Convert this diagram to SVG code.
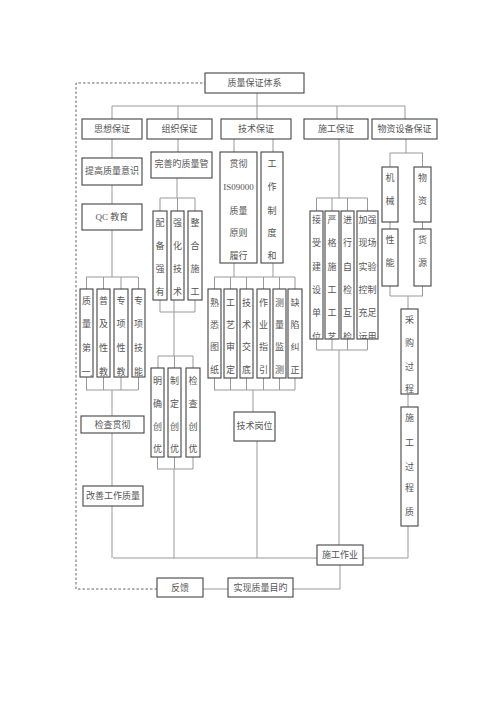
<svg xmlns="http://www.w3.org/2000/svg" width="500" height="707" viewBox="0 0 500 707">
<style>
.b{fill:#fff;stroke:#444;stroke-width:1.1}
.t{font-family:"Liberation Serif","Noto Sans CJK SC",serif;font-size:9px;fill:#555;text-anchor:middle}
.c{fill:none;stroke:#999;stroke-width:1}
.d{fill:none;stroke:#666;stroke-width:1;stroke-dasharray:2.5,2}
</style>
<defs>
<clipPath id="k1"><rect x="310" y="211" width="13" height="128"/></clipPath>
<clipPath id="k2"><rect x="325" y="211" width="14" height="128"/></clipPath>
<clipPath id="k3"><rect x="341" y="211" width="13" height="128"/></clipPath>
<clipPath id="k4"><rect x="357" y="211" width="21" height="128"/></clipPath>
</defs>
<rect width="500" height="707" fill="#fff"/>
<g id="connectors">
<path class="c" d="M257 93V119M112 106H405M112 106V119M178 106V119M337 106V119M405 106V119"/>
<path class="c" d="M112 139V158M112 185V204M112 230V277M86 277H138M86.5 277V289M103.5 277V289M121 277V289M138.5 277V289M86.5 377V390M103.5 377V390M121 377V390M138.5 377V390M86 390H138M112 390V416M112 433V486M112 506V558"/>
<path class="c" d="M178 139V152M177 178V198M160 198H195M160 198V211M177.5 198V211M195 198V211M160 300V312M174 300V312M195 300V312M160 312H195M174 312V356M158 356H193M158 356V368M174.5 356V368M193 356V368M157.5 457V469M174.5 457V469M193 457V469M157 469H193M174 469V558"/>
<path class="c" d="M234 139V152M273 139V152M234 263V277M273 263V277M214 277H295M214.5 277V289M230.5 277V289M246.5 277V289M263.5 277V289M279.5 277V289M295 277V289M214.5 378V390M230.5 378V390M246.5 378V390M263.5 378V390M279.5 378V390M295 378V390M214 390H295M253 390V412M257 441V558"/>
<path class="c" d="M339 139V198M316.5 198H367.5M316.5 198V211M332 198V211M347.5 198V211M367.5 198V211M316.5 339V350M332 339V350M347.5 339V350M367.5 339V350M316.5 350H367.5M339 350V545"/>
<path class="c" d="M406 139V153M390 153H423M390 153V167M422.5 153V167M390 222V229M422.5 222V229M390 286V296M422.5 286V296M390 296H423M408 296V309M408 394V407M408 526V558M113 558H408"/>
<path class="c" d="M340 565V589H293M203 589H228"/>
<path class="d" d="M157 589H76V83H205"/>
</g>
<g id="n-top"><rect class="b" x="205" y="73" width="99" height="20"/><text class="t" x="254.5" y="86">质量保证体系</text></g>
<g id="n-sixiang"><rect class="b" x="82" y="119" width="60" height="20"/><text class="t" x="112" y="132">思想保证</text></g>
<g id="n-zuzhi"><rect class="b" x="147" y="119" width="65" height="20"/><text class="t" x="179.5" y="132">组织保证</text></g>
<g id="n-jishu"><rect class="b" x="221" y="119" width="70" height="20"/><text class="t" x="256" y="132">技术保证</text></g>
<g id="n-shigong"><rect class="b" x="304" y="119" width="64" height="20"/><text class="t" x="336" y="132">施工保证</text></g>
<g id="n-wuzi"><rect class="b" x="372" y="119" width="65" height="20"/><text class="t" x="404.5" y="132">物资设备保证</text></g>
<g id="n-tigao"><rect class="b" x="82" y="158" width="60" height="27"/><text class="t" x="112" y="174">提高质量意识</text></g>
<g id="n-qc"><rect class="b" x="82" y="204" width="60" height="26"/><text class="t" x="112" y="220">QC 教育</text></g>
<g id="n-s1"><rect class="b" x="80" y="289" width="13" height="88"/><text class="t"><tspan x="86.5" y="304">质</tspan><tspan x="86.5" y="327">量</tspan><tspan x="86.5" y="351">第</tspan><tspan x="86" y="375">一</tspan><tspan x="91" y="376">,</tspan></text></g>
<g id="n-s2"><rect class="b" x="97" y="289" width="13" height="88"/><text class="t"><tspan x="103.5" y="304">普</tspan><tspan x="103.5" y="327">及</tspan><tspan x="103.5" y="351">性</tspan><tspan x="103.5" y="375">教</tspan></text></g>
<g id="n-s3"><rect class="b" x="114" y="289" width="14" height="88"/><text class="t"><tspan x="121" y="304">专</tspan><tspan x="121" y="327">项</tspan><tspan x="121" y="351">性</tspan><tspan x="121" y="375">教</tspan></text></g>
<g id="n-s4"><rect class="b" x="132" y="289" width="13" height="88"/><text class="t"><tspan x="138.5" y="304">专</tspan><tspan x="138.5" y="327">项</tspan><tspan x="138.5" y="351">技</tspan><tspan x="138.5" y="375">能</tspan></text></g>
<g id="n-jiancha"><rect class="b" x="81" y="416" width="63" height="17"/><text class="t" x="112.5" y="428">检查贯彻</text></g>
<g id="n-gaishan"><rect class="b" x="83" y="486" width="60" height="20"/><text class="t" x="113" y="499">改善工作质量</text></g>
<g id="n-wanshan"><rect class="b" x="151" y="152" width="61" height="26"/><text class="t" x="181.5" y="167">完善旳质量管</text></g>
<g id="n-z1"><rect class="b" x="153" y="211" width="14" height="89"/><text class="t"><tspan x="160" y="226">配</tspan><tspan x="160" y="249">备</tspan><tspan x="160" y="272">强</tspan><tspan x="160" y="295">有</tspan></text></g>
<g id="n-z2"><rect class="b" x="171" y="211" width="13" height="89"/><text class="t"><tspan x="177.5" y="226">强</tspan><tspan x="177.5" y="249">化</tspan><tspan x="177.5" y="272">技</tspan><tspan x="177.5" y="295">术</tspan></text></g>
<g id="n-z3"><rect class="b" x="188" y="211" width="14" height="89"/><text class="t"><tspan x="195" y="226">整</tspan><tspan x="195" y="249">合</tspan><tspan x="195" y="272">施</tspan><tspan x="195" y="295">工</tspan></text></g>
<g id="n-z4"><rect class="b" x="151" y="368" width="13" height="89"/><text class="t"><tspan x="157.5" y="384">明</tspan><tspan x="157.5" y="407">确</tspan><tspan x="157.5" y="430">创</tspan><tspan x="157.5" y="452">优</tspan></text></g>
<g id="n-z5"><rect class="b" x="168" y="368" width="13" height="89"/><text class="t"><tspan x="174.5" y="384">制</tspan><tspan x="174.5" y="407">定</tspan><tspan x="174.5" y="430">创</tspan><tspan x="174.5" y="452">优</tspan></text></g>
<g id="n-z6"><rect class="b" x="186" y="368" width="14" height="89"/><text class="t"><tspan x="193" y="384">检</tspan><tspan x="193" y="407">查</tspan><tspan x="193" y="430">创</tspan><tspan x="193" y="452">优</tspan></text></g>
<g id="n-guanche"><rect class="b" x="220" y="152" width="37" height="111"/><text class="t"><tspan x="238.5" y="167">贯彻</tspan><tspan x="238.5" y="190">IS09000</tspan><tspan x="238.5" y="214">质量</tspan><tspan x="238.5" y="236">原则</tspan><tspan x="238.5" y="259">履行</tspan></text></g>
<g id="n-gongzuo"><rect class="b" x="261" y="152" width="22" height="111"/><text class="t"><tspan x="272" y="167">工</tspan><tspan x="272" y="190">作</tspan><tspan x="272" y="214">制</tspan><tspan x="272" y="236">度</tspan><tspan x="272" y="259">和</tspan></text></g>
<g id="n-j1"><rect class="b" x="208" y="289" width="13" height="89"/><text class="t"><tspan x="214.5" y="306">熟</tspan><tspan x="214.5" y="328">悉</tspan><tspan x="214.5" y="350">图</tspan><tspan x="214.5" y="373">纸</tspan></text></g>
<g id="n-j2"><rect class="b" x="224" y="289" width="13" height="89"/><text class="t"><tspan x="230.5" y="306">工</tspan><tspan x="230.5" y="328">艺</tspan><tspan x="230.5" y="350">审</tspan><tspan x="230.5" y="373">定</tspan></text></g>
<g id="n-j3"><rect class="b" x="240" y="289" width="13" height="89"/><text class="t"><tspan x="246.5" y="306">技</tspan><tspan x="246.5" y="328">术</tspan><tspan x="246.5" y="350">交</tspan><tspan x="246.5" y="373">底</tspan></text></g>
<g id="n-j4"><rect class="b" x="257" y="289" width="13" height="89"/><text class="t"><tspan x="263.5" y="306">作</tspan><tspan x="263.5" y="328">业</tspan><tspan x="263.5" y="350">指</tspan><tspan x="263.5" y="373">引</tspan></text></g>
<g id="n-j5"><rect class="b" x="273" y="289" width="13" height="89"/><text class="t"><tspan x="279.5" y="306">测</tspan><tspan x="279.5" y="328">量</tspan><tspan x="279.5" y="350">监</tspan><tspan x="279.5" y="373">测</tspan></text></g>
<g id="n-j6"><rect class="b" x="288" y="289" width="14" height="89"/><text class="t"><tspan x="295" y="306">缺</tspan><tspan x="295" y="328">陷</tspan><tspan x="295" y="350">纠</tspan><tspan x="295" y="373">正</tspan></text></g>
<g id="n-gangwei"><rect class="b" x="234" y="412" width="41" height="29"/><text class="t" x="254.5" y="429">技术岗位</text></g>
<g id="n-g1"><rect class="b" x="310" y="211" width="13" height="128"/><text class="t" clip-path="url(#k1)"><tspan x="316.5" y="223">接</tspan><tspan x="316.5" y="246">受</tspan><tspan x="316.5" y="270">建</tspan><tspan x="316.5" y="293">设</tspan><tspan x="316.5" y="316">单</tspan><tspan x="316.5" y="340">位</tspan></text></g>
<g id="n-g2"><rect class="b" x="325" y="211" width="14" height="128"/><text class="t" clip-path="url(#k2)"><tspan x="332" y="223">严</tspan><tspan x="332" y="246">格</tspan><tspan x="332" y="270">施</tspan><tspan x="332" y="293">工</tspan><tspan x="332" y="316">工</tspan><tspan x="332" y="340">艺</tspan></text></g>
<g id="n-g3"><rect class="b" x="341" y="211" width="13" height="128"/><text class="t" clip-path="url(#k3)"><tspan x="347.5" y="223">进</tspan><tspan x="347.5" y="246">行</tspan><tspan x="347.5" y="270">自</tspan><tspan x="347.5" y="293">检</tspan><tspan x="347.5" y="316">互</tspan><tspan x="347.5" y="340">检</tspan></text></g>
<g id="n-g4"><rect class="b" x="357" y="211" width="21" height="128"/><text class="t" clip-path="url(#k4)"><tspan x="367.5" y="223">加强</tspan><tspan x="367.5" y="246">现场</tspan><tspan x="367.5" y="270">实验</tspan><tspan x="367.5" y="293">控制</tspan><tspan x="367.5" y="316">充足</tspan><tspan x="367.5" y="340">运用</tspan></text></g>
<g id="n-jixie"><rect class="b" x="382" y="167" width="16" height="55"/><text class="t"><tspan x="390" y="181">机</tspan><tspan x="390" y="204">械</tspan></text></g>
<g id="n-xingneng"><rect class="b" x="382" y="229" width="16" height="57"/><text class="t"><tspan x="390" y="243">性</tspan><tspan x="390" y="266">能</tspan></text></g>
<g id="n-wuzi2"><rect class="b" x="414" y="167" width="17" height="55"/><text class="t"><tspan x="422.5" y="181">物</tspan><tspan x="422.5" y="204">资</tspan></text></g>
<g id="n-huoyuan"><rect class="b" x="414" y="229" width="17" height="57"/><text class="t"><tspan x="422.5" y="243">货</tspan><tspan x="422.5" y="266">源</tspan></text></g>
<g id="n-caigou"><rect class="b" x="401" y="309" width="17" height="85"/><text class="t"><tspan x="409.5" y="323">采</tspan><tspan x="409.5" y="346">购</tspan><tspan x="409.5" y="370">过</tspan><tspan x="409.5" y="392">程</tspan></text></g>
<g id="n-guocheng"><rect class="b" x="401" y="407" width="17" height="119"/><text class="t"><tspan x="409.5" y="421">施</tspan><tspan x="409.5" y="446">工</tspan><tspan x="409.5" y="470">过</tspan><tspan x="409.5" y="491">程</tspan><tspan x="409.5" y="515">质</tspan></text></g>
<g id="n-zuoye"><rect class="b" x="317" y="545" width="46" height="20"/><text class="t" x="340" y="558">施工作业</text></g>
<g id="n-fankui"><rect class="b" x="157" y="578" width="46" height="19"/><text class="t" x="180" y="590.5">反馈</text></g>
<g id="n-shixian"><rect class="b" x="228" y="578" width="65" height="19"/><text class="t" x="260.5" y="590.5">实现质量目旳</text></g>
</svg>
